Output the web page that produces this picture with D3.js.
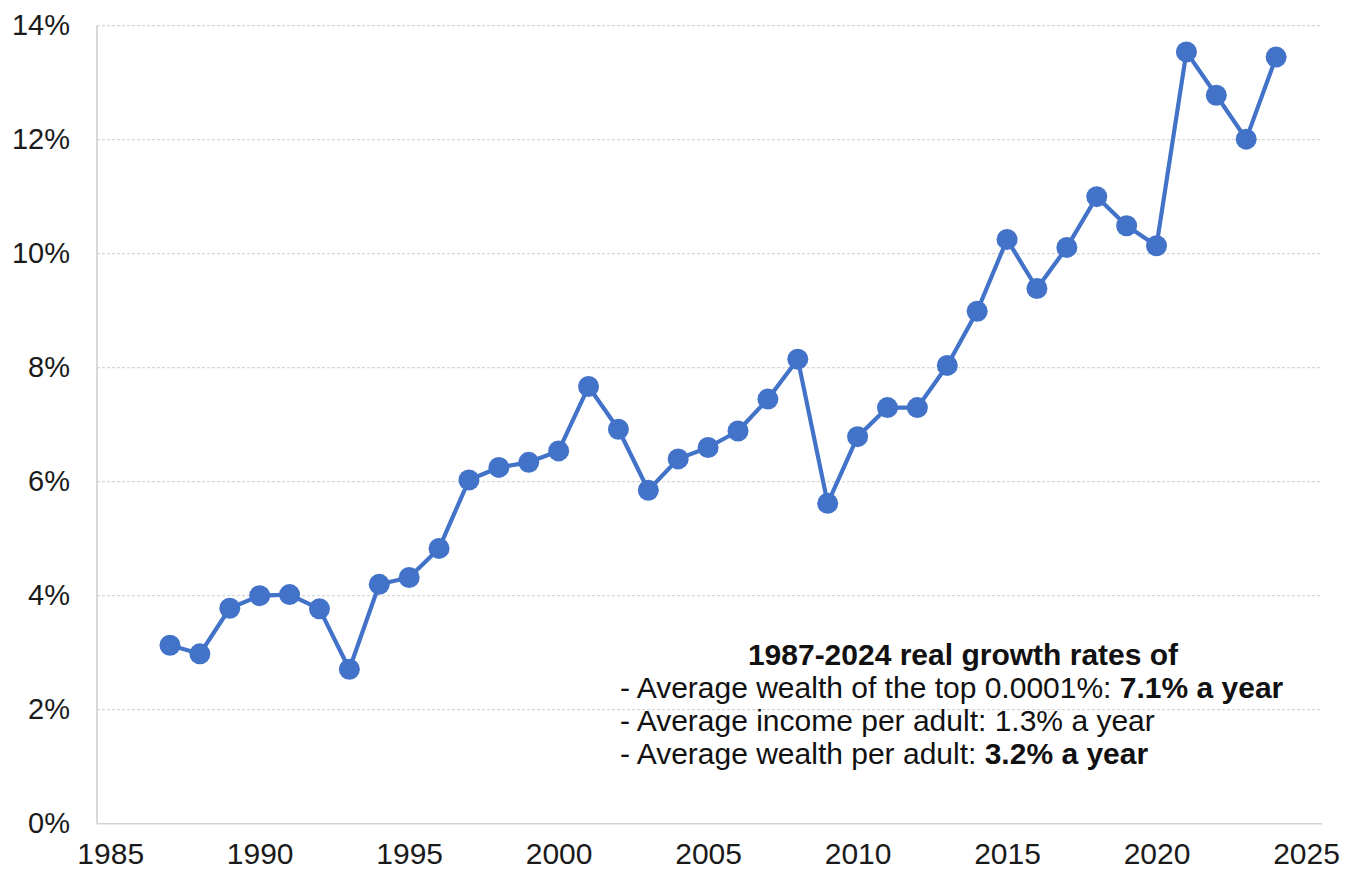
<!DOCTYPE html>
<html>
<head>
<meta charset="utf-8">
<script src="https://cdn.jsdelivr.net/npm/d3@7"></script>
<style>
  html, body { margin: 0; padding: 0; background: #fff; }
  svg { display: block; font-family: "Liberation Sans", Arial, Helvetica, sans-serif; }
</style>
</head>
<body>
<svg id="chart" width="1345" height="874"></svg>
<script>
// ---- data ----
const years = [1987,1988,1989,1990,1991,1992,1993,1994,1995,1996,1997,1998,1999,2000,
  2001,2002,2003,2004,2005,2006,2007,2008,2009,2010,2011,2012,2013,2014,2015,2016,
  2017,2018,2019,2020,2021,2022,2023,2024];
const values = [3.13,2.98,3.78,4.00,4.02,3.77,2.71,4.20,4.32,4.83,6.03,6.25,6.34,6.54,
  7.67,6.92,5.85,6.40,6.60,6.89,7.45,8.15,5.62,6.79,7.30,7.30,8.04,8.99,10.25,9.39,
  10.11,11.00,10.49,10.14,13.54,12.78,12.01,13.45];
const xTicks = [1985,1990,1995,2000,2005,2010,2015,2020,2025];
const yTicks = [0,2,4,6,8,10,12,14];
const noteTitle = "1987-2024 real growth rates of";
const noteLines = [
  [["- Average wealth of the top 0.0001%: ", false], ["7.1% a year", true]],
  [["- Average income per adult: 1.3% a year", false]],
  [["- Average wealth per adult: ", false], ["3.2% a year", true]]
];

// ---- layout ----
const svg = d3.select("#chart");
const frame = {left: 97, right: 1322, top: 25.7, bottom: 823.7};
const x = d3.scaleLinear().domain([1985, 2025]).range([110.2, 1306]);
const y = d3.scaleLinear().domain([0, 14]).range([frame.bottom, frame.top]);
const blue = "#4273c9";

// gridlines
svg.append("g").selectAll("line").data(yTicks.filter(d => d > 0)).join("line")
  .attr("x1", frame.left).attr("x2", frame.right)
  .attr("y1", d => y(d)).attr("y2", d => y(d))
  .attr("stroke", "#d6d6d6").attr("stroke-width", 1.2)
  .attr("stroke-dasharray", "3,2");

// axis lines
svg.append("line").attr("x1", frame.left).attr("x2", frame.left)
  .attr("y1", frame.top).attr("y2", frame.bottom)
  .attr("stroke", "#cfcfcf").attr("stroke-width", 1.6);
svg.append("line").attr("x1", frame.left).attr("x2", frame.right)
  .attr("y1", frame.bottom).attr("y2", frame.bottom)
  .attr("stroke", "#d3d3d3").attr("stroke-width", 1.6);

// y axis labels
const yAxis = d3.axisLeft(y).tickValues(yTicks).tickFormat(d => d + "%").tickSize(0).tickPadding(0);
const gy = svg.append("g").attr("transform", "translate(70,0)").call(yAxis);
gy.select(".domain").remove();
gy.selectAll("text").attr("font-size", 29).attr("fill", "#1a1a1a")
  .attr("font-family", "'Liberation Sans', Arial, sans-serif");

// x axis labels
const xAxis = d3.axisBottom(x).tickValues(xTicks).tickFormat(d3.format("d")).tickSize(0).tickPadding(0);
const gx = svg.append("g").attr("transform", "translate(0,843)").call(xAxis);
gx.select(".domain").remove();
gx.selectAll("text").attr("font-size", 30).attr("fill", "#1a1a1a")
  .attr("font-family", "'Liberation Sans', Arial, sans-serif");

// line
const data = years.map((yr, i) => ({yr, v: values[i]}));
svg.append("path").datum(data)
  .attr("fill", "none").attr("stroke", blue).attr("stroke-width", 4.2)
  .attr("stroke-linejoin", "round")
  .attr("d", d3.line().x(d => x(d.yr)).y(d => y(d.v)));

svg.append("g").selectAll("circle").data(data).join("circle")
  .attr("cx", d => x(d.yr)).attr("cy", d => y(d.v)).attr("r", 10.5)
  .attr("fill", blue);

// annotation
svg.append("text").attr("x", 963).attr("y", 665).attr("text-anchor", "middle")
  .attr("font-size", 30).attr("font-weight", "bold").attr("fill", "#111")
  .text(noteTitle);
noteLines.forEach((parts, i) => {
  const t = svg.append("text").attr("x", 620).attr("y", 698 + i * 33)
    .attr("font-size", 30).attr("fill", "#111");
  parts.forEach(([s, b]) => {
    t.append("tspan").attr("font-weight", b ? "bold" : "normal").text(s);
  });
});
</script>
</body>
</html>
